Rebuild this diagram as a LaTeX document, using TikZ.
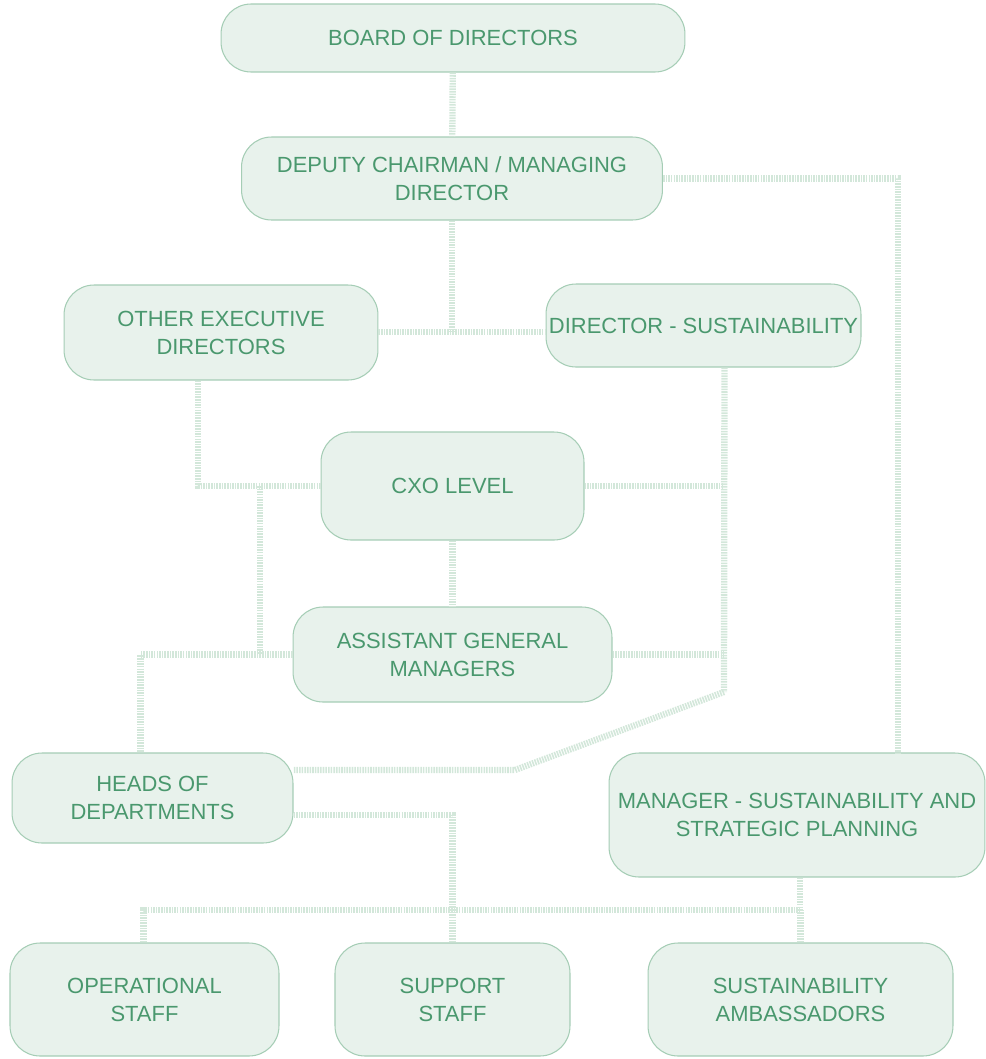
\documentclass[tikz,border=0pt]{standalone}
\usepackage{fontspec}
\setmainfont{Liberation Sans}
\usepackage{tikz}

\definecolor{boxfill}{HTML}{E8F2EC}
\definecolor{boxline}{HTML}{A5CDB5}
\definecolor{boxtext}{HTML}{4A986E}
\definecolor{wirecol}{HTML}{D3E7DA}

\tikzset{
  box/.style={draw=boxline, fill=boxfill, line width=0.6pt, rounded corners=0.6cm,
    text=boxtext, align=center, font=\fontsize{12.5}{16}\selectfont, inner sep=0pt},
  wire/.style={draw=wirecol, line width=3.6pt, dash pattern=on 0.9pt off 0.6pt}
}

\begin{document}
\begin{tikzpicture}[x=0.02cm, y=-0.02cm]
\useasboundingbox (0,0) rectangle (986,1059);

\node[box, minimum width=9.28cm, minimum height=1.36cm] (board) at (453, 38) {BOARD OF DIRECTORS};
\node[box, minimum width=8.42cm, minimum height=1.66cm] (deputy) at (452, 178.5) {DEPUTY CHAIRMAN / MANAGING\\DIRECTOR};
\node[box, minimum width=6.28cm, minimum height=1.90cm] (other) at (221, 332.5) {OTHER EXECUTIVE\\DIRECTORS};
\node[box, minimum width=6.30cm, minimum height=1.66cm] (dirsus) at (703.5, 325.5) {DIRECTOR - SUSTAINABILITY};
\node[box, minimum width=5.26cm, minimum height=2.16cm] (cxo) at (452.5, 486) {CXO LEVEL};
\node[box, minimum width=6.38cm, minimum height=1.90cm] (agm) at (452.5, 654.5) {ASSISTANT GENERAL\\MANAGERS};
\node[box, minimum width=5.62cm, minimum height=1.80cm] (heads) at (152.5, 798) {HEADS OF\\DEPARTMENTS};
\node[box, minimum width=7.52cm, minimum height=2.48cm] (manager) at (797, 815) {MANAGER - SUSTAINABILITY AND\\STRATEGIC PLANNING};
\node[box, minimum width=5.38cm, minimum height=2.26cm] (oper) at (144.5, 999.5) {OPERATIONAL\\STAFF};
\node[box, minimum width=4.70cm, minimum height=2.26cm] (support) at (452.5, 999.5) {SUPPORT\\STAFF};
\node[box, minimum width=6.10cm, minimum height=2.26cm] (ambas) at (800.5, 999.5) {SUSTAINABILITY\\AMBASSADORS};

% top of the chart
\coordinate (split) at (452, 332);
\draw[wire] (board) -- (deputy);
\draw[wire] (deputy) -- (split);
\draw[wire] (other.east |- split) -- (dirsus.west |- split);
\coordinate (mgrin) at (898, 753);
\draw[wire] (deputy.east) -| (mgrin);

% left side
\coordinate (cxoleft) at (260, 486);
\draw[wire] ([xshift=-0.46cm]other.south) |- (cxo.west);
\draw[wire] (cxoleft) -- (cxoleft |- agm.west);
\draw[wire] (agm.west) -| ([xshift=-0.24cm]heads.north);
\draw[wire] (cxo) -- (agm);

% right side
\coordinate (rdown) at (724, 692);
\coordinate (bend) at (515, 770);
\draw[wire] ([xshift=0.42cm]dirsus.south) -- (rdown);
\draw[wire] (cxo.east) -- (cxo.east -| rdown);
\draw[wire] (agm.east) -- (agm.east -| rdown);
\draw[wire] (rdown) -- (bend) -- (bend -| heads.east);

% bottom row
\coordinate (bus) at (800, 910);
\draw[wire] ([yshift=-0.34cm]heads.east) -| (support.north);
\draw[wire] (manager.south -| bus) -- (bus);
\draw[wire] ([xshift=-0.02cm]oper.north) |- (bus);
\draw[wire] (ambas.north) -- (ambas.north |- bus);

\end{tikzpicture}
\end{document}
